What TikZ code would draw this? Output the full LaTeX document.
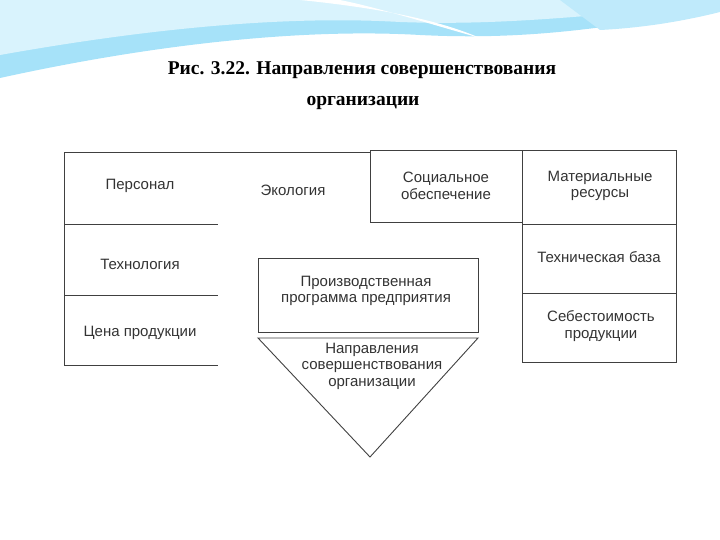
\documentclass[tikz,border=0pt]{standalone}
\usepackage{fontspec}
\setmainfont{Liberation Serif}
\newfontfamily\sansf{Liberation Sans}
\begin{document}
\begin{tikzpicture}[x=1pt,y=-1pt,
  lbl/.style={font=\sansf\fontsize{15}{16.5}\selectfont,text=black!80,align=center},
  ln/.style={draw=black!75,line width=0.9pt}]
\useasboundingbox (0,0) rectangle (720,540);
% decorative waves
\fill[cyan!35!white] (0,0) -- (720,0) -- (720,8) .. controls (600,30) and (520,40) .. (420,35) .. controls (300,28) and (150,45) .. (0,78) -- cycle;
\fill[cyan!15!white] (0,0) -- (720,0) -- (720,3) .. controls (560,20) and (480,25) .. (400,22) .. controls (280,15) and (140,30) .. (0,55) -- cycle;
\fill[white] (300,0) .. controls (400,10) and (450,25) .. (480,38) .. controls (430,24) and (380,8) .. (340,0) -- cycle;
\fill[cyan!25!white] (560,0) -- (720,0) -- (720,12) .. controls (680,22) and (640,28) .. (600,30) -- cycle;
% title
\node[font=\bfseries\fontsize{19.5}{22}\selectfont] (t1) at (362,70) {Рис. 3.22. Направления совершенствования};
\node[font=\bfseries\fontsize{19.5}{22}\selectfont] (t2) at (363,103) {организации};
% left column
\draw[ln] (370,152) -- (64,152) -- (64,365) -- (218,365);
\draw[ln] (64,224) -- (218,224);
\draw[ln] (64,295) -- (218,295);
% right boxes
\draw[ln] (370,150) rectangle (522,222);
\draw[ln] (522,150) rectangle (676,224);
\draw[ln] (522,224) rectangle (676,293);
\draw[ln] (522,293) rectangle (676,362);
\draw[ln] (258,258) rectangle (478,332);
\draw[ln] (258,338) -- (478,338) -- (370,457) -- cycle;
% labels
\node[lbl] (a) at (140,186) {Персонал};
\node[lbl] (b) at (293,190) {Экология};
\node[lbl] (c) at (446,186) {Социальное\\обеспечение};
\node[lbl] (d) at (600,186) {Материальные\\ресурсы};
\node[lbl] (e) at (140,264) {Технология};
\node[lbl] (f) at (599,257) {Техническая база};
\node[lbl] (g) at (140,333) {Цена продукции};
\node[lbl] (h) at (601,326) {Себестоимость\\продукции};
\node[lbl] (i) at (366,291) {Производственная\\программа предприятия};
\node[lbl] (j) at (372,366) {Направления\\совершенствования\\организации};
\end{tikzpicture}
\end{document}
